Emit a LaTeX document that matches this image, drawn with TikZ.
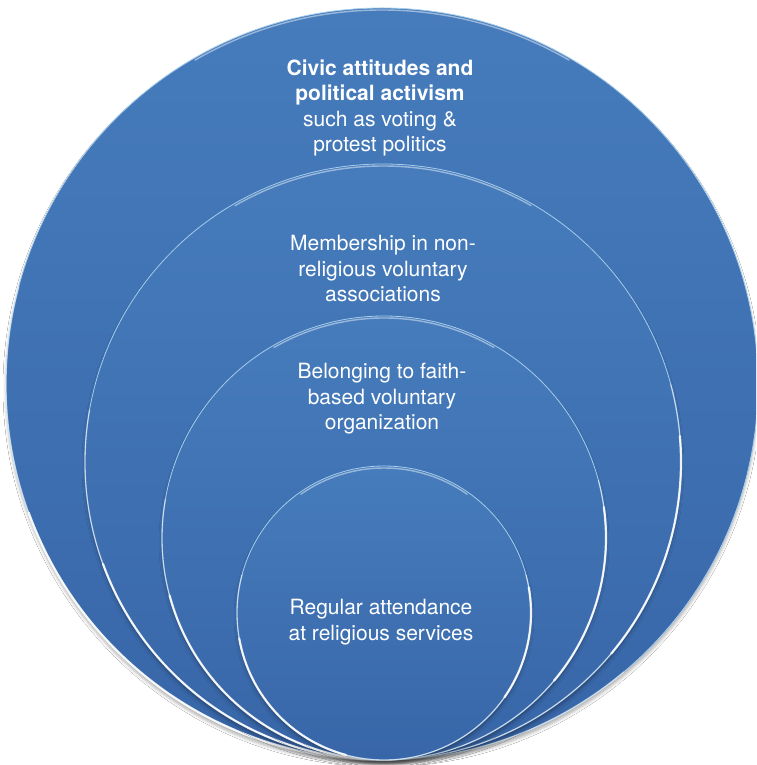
\documentclass[tikz,border=0pt]{standalone}
\usepackage{fontspec}
\setmainfont{TeX Gyre Heros}
\usetikzlibrary{shadows.blur}
\definecolor{discTop}{RGB}{70,124,188}
\definecolor{discBot}{RGB}{56,102,168}
\definecolor{rimBlue}{RGB}{165,205,235}
\tikzset{
  disc/.style={top color=discTop, bottom color=discBot, draw=rimBlue, line width=0.8pt,
    blur shadow={shadow xshift=0pt, shadow yshift=-4pt, shadow opacity=30, shadow blur radius=3pt}},
  glow/.style={draw=white, line width=2.2pt, line cap=round, opacity=0.85},
  faint/.style={draw=white, line width=1.4pt, line cap=round, opacity=0.45},
  ringtext/.style={text=white, align=center, font=\fontsize{21}{25.5}\selectfont}
}
\begin{document}
\begin{tikzpicture}
[x=1pt, y=1pt]
\useasboundingbox (0,0) rectangle (756,765);
\clip (0,0) rectangle (756,765);
\fill [white] (0,0) rectangle (756,765);
\coordinate (o1) at (382,381);
\coordinate (o2) at (383,303);
\coordinate (o3) at (384,227);
\coordinate (o4) at (384,152);
\path [disc] (o1) circle [radius=376];
\draw [faint] (o1) ++(165:376) arc [start angle=165, end angle=310, radius=376];
\draw [glow] (o1) ++(200:376) arc [start angle=200, end angle=272, radius=376];
\draw [faint] (o1) ++(60:374) arc [start angle=60, end angle=120, radius=374];
\path [disc] (o2) circle [radius=298];
\draw [faint] (o2) ++(170:298) arc [start angle=170, end angle=375, radius=298];
\draw [glow] (o2) ++(200:298) arc [start angle=200, end angle=268, radius=298];
\draw [glow] (o2) ++(-40:298) arc [start angle=-40, end angle=5, radius=298];
\draw [faint] (o2) ++(60:296) arc [start angle=60, end angle=120, radius=296];
\path [disc] (o3) circle [radius=222];
\draw [faint] (o3) ++(170:222) arc [start angle=170, end angle=375, radius=222];
\draw [glow] (o3) ++(195:222) arc [start angle=195, end angle=265, radius=222];
\draw [glow] (o3) ++(-40:222) arc [start angle=-40, end angle=8, radius=222];
\draw [faint] (o3) ++(60:220) arc [start angle=60, end angle=120, radius=220];
\path [disc] (o4) circle [radius=147];
\draw [faint] (o4) ++(165:147) arc [start angle=165, end angle=375, radius=147];
\draw [glow] (o4) ++(190:147) arc [start angle=190, end angle=255, radius=147];
\draw [glow] (o4) ++(-35:147) arc [start angle=-35, end angle=10, radius=147];
\draw [faint] (o4) ++(55:145) arc [start angle=55, end angle=125, radius=145];
\node [ringtext] (civic) at (380,657) {\textbf{Civic attitudes and}\\ \textbf{political activism}\\ such as voting \&\\ protest politics};
\node [ringtext] (member) at (383,496) {Membership in non-\\ religious voluntary\\ associations};
\node [ringtext] (faith) at (382,366) {Belonging to faith-\\ based voluntary\\ organization};
\node [ringtext] (attend) at (381,143) {Regular attendance\\ at religious services};
\end{tikzpicture}
\end{document}
